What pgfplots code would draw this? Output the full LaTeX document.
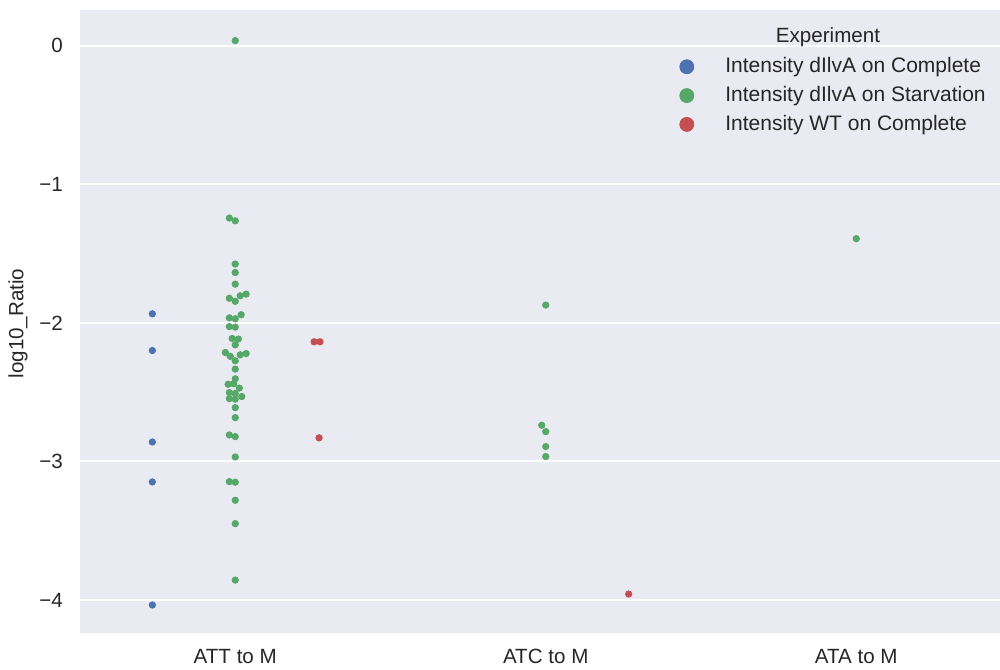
\documentclass[border=0pt]{standalone}
\usepackage{fontspec}
\setmainfont{Liberation Sans}
\usepackage{pgfplots}
\pgfplotsset{compat=1.18}
\definecolor{bgc}{HTML}{EAEAF2}
\definecolor{txt}{HTML}{262626}
\definecolor{sblue}{HTML}{4C72B0}
\definecolor{sgreen}{HTML}{55A868}
\definecolor{sred}{HTML}{C44E52}
\begin{document}
\begin{tikzpicture}
\begin{axis}[
  scale only axis, width=460pt, height=311.5pt,
  xmin=-0.5, xmax=2.463, ymin=-4.238, ymax=0.257,
  axis background/.style={fill=bgc},
  axis line style={draw=none},
  xtick={0,1,2}, xticklabels={ATT to M, ATC to M, ATA to M},
  ytick={-4,-3,-2,-1,0}, yticklabels={−4,−3,−2,−1,0},
  major tick length=0pt,
  ymajorgrids, grid style={white, line width=1pt},
  tick label style={font=\fontsize{10.3}{12}\selectfont, text=txt},
  yticklabel style={xshift=-5pt},
  xticklabel style={yshift=-4pt, text height=7.5pt, text depth=0pt},
  ylabel={log10\_Ratio},
  ylabel style={font=\fontsize{10.3}{12}\selectfont, text=txt, xshift=-1pt, yshift=-1pt},
  clip=false,
  legend style={draw=none, fill=none, at={(rel axis cs:0.645,0.937)}, anchor=north west,
    font=\fontsize{10.5}{12}\selectfont, text=txt, row sep=1.3pt},
  legend cell align=left,
  legend image code/.code={\path (0cm,0cm) (0.7cm,0cm); \draw[#1, mark size=3.5pt] plot coordinates {(0.1cm,0cm)};},
]
\addplot[only marks, mark=*, mark size=1.6pt, color=sblue, mark options={draw=none, fill=sblue}] table {
x y
-0.267 -1.935
-0.267 -2.200
-0.267 -2.860
-0.267 -3.148
-0.267 -4.036
};
\addlegendentry{Intensity dIlvA on Complete}
\addplot[only marks, mark=*, mark size=1.6pt, color=sgreen, mark options={draw=none, fill=sgreen}] table {
x y
0 0.036
-0.019 -1.244
0 -1.264
0 -1.576
0 -1.637
0 -1.721
-0.019 -1.823
0 -1.845
0.016 -1.805
0.035 -1.793
-0.019 -1.964
0 -1.971
0.019 -1.942
-0.019 -2.027
0 -2.031
-0.010 -2.113
0.010 -2.117
0 -2.159
-0.032 -2.214
-0.016 -2.242
0 -2.274
0.016 -2.231
0.035 -2.222
0 -2.334
0 -2.404
-0.023 -2.443
-0.005 -2.440
0.013 -2.471
-0.019 -2.503
0 -2.510
-0.019 -2.547
0 -2.551
0.021 -2.532
0 -2.612
0 -2.684
-0.019 -2.809
0 -2.821
0 -2.968
-0.019 -3.146
0 -3.150
0 -3.280
0 -3.449
0 -3.856
0.987 -2.739
1 -1.872
1 -2.785
1 -2.893
1 -2.965
2 -1.393
};
\addlegendentry{Intensity dIlvA on Starvation}
\addplot[only marks, mark=*, mark size=1.6pt, color=sred, mark options={draw=none, fill=sred}] table {
x y
0.254 -2.137
0.273 -2.137
0.270 -2.830
1.267 -3.957
};
\addlegendentry{Intensity WT on Complete}
\node[font=\fontsize{10.3}{12}\selectfont, text=txt] at (rel axis cs:0.813,0.957) {Experiment};
\end{axis}
\pgfresetboundingbox
\path[use as bounding box] ([xshift=-40pt,yshift=-18pt]current axis.south west) rectangle ([yshift=5pt]current axis.north east);
\end{tikzpicture}
\end{document}
